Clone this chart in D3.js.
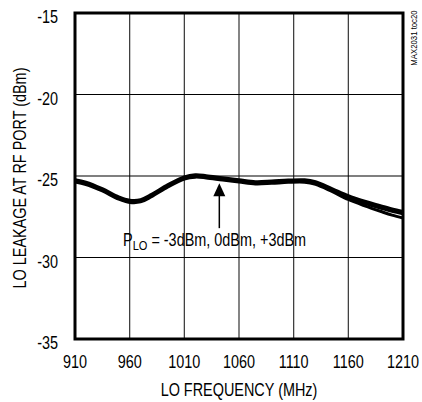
<!DOCTYPE html>
<html><head><meta charset="utf-8">
<script src="https://cdn.jsdelivr.net/npm/d3@7"></script>
<style>
html,body{margin:0;padding:0;background:#fff;}
svg{display:block;}
text{font-family:"Liberation Sans Narrow","Liberation Sans",Arial,sans-serif;fill:#000;}
</style></head>
<body>
<script>
const freqs = [910, 920, 935, 950, 960, 970, 980, 995, 1010, 1020, 1030, 1045, 1060, 1075, 1090, 1105, 1120, 1130, 1145, 1160, 1175, 1190, 1200, 1210];
const leakM3 = [-25.23, -25.38, -25.78, -26.28, -26.48, -26.45, -26.13, -25.53, -25.05, -24.93, -24.98, -25.11, -25.23, -25.35, -25.31, -25.25, -25.23, -25.35, -25.77, -26.21, -26.55, -26.84, -27.02, -27.17];
const leak0 = [-25.30, -25.45, -25.85, -26.35, -26.55, -26.52, -26.20, -25.60, -25.12, -25.00, -25.05, -25.18, -25.30, -25.42, -25.38, -25.32, -25.30, -25.43, -25.86, -26.31, -26.67, -26.98, -27.17, -27.31];
const leakP3 = [-25.37, -25.52, -25.92, -26.42, -26.62, -26.59, -26.27, -25.67, -25.19, -25.07, -25.12, -25.25, -25.37, -25.49, -25.45, -25.39, -25.38, -25.51, -25.95, -26.44, -26.83, -27.18, -27.40, -27.58];
const xTicks = [910, 960, 1010, 1060, 1110, 1160, 1210];
const yTicks = [-35, -30, -25, -20, -15];
const arrowFreq = 1042, arrowFrom = -28.2, arrowTo = -25.45;

const W = 422, H = 402;
const L = 75, R = 403, T = 13, B = 339;
const FS = 17.6, SX = 0.82;
const svg = d3.select("body").append("svg").attr("width", W).attr("height", H);
const x = d3.scaleLinear().domain([910, 1210]).range([L, R]);
const y = d3.scaleLinear().domain([-35, -15]).range([B, T]);

function txt(px, py, s, anchor, rot, fs) {
  return svg.append("text")
    .attr("transform", `translate(${px},${py})${rot ? " rotate(" + rot + ")" : ""} scale(${SX},1)`)
    .attr("text-anchor", anchor || "start").attr("font-size", fs || FS).text(s);
}

// grid
svg.append("g").selectAll("line").data(xTicks.slice(1, -1)).join("line")
  .attr("x1", d => x(d)).attr("x2", d => x(d)).attr("y1", T).attr("y2", B)
  .attr("stroke", "#333").attr("stroke-width", 1.2);
svg.append("g").selectAll("line").data(yTicks.slice(1, -1)).join("line")
  .attr("y1", d => y(d)).attr("y2", d => y(d)).attr("x1", L).attr("x2", R)
  .attr("stroke", "#000").attr("stroke-width", 1.2);

// curves
const line = d3.line().x((d, i) => x(freqs[i])).y(d => y(d)).curve(d3.curveCatmullRom.alpha(0.5));
[leakM3, leak0, leakP3].forEach(s => {
  svg.append("path").attr("d", line(s)).attr("fill", "none").attr("stroke", "#000").attr("stroke-width", 3);
});

// frame
svg.append("rect").attr("x", L).attr("y", T).attr("width", R - L).attr("height", B - T)
  .attr("fill", "none").attr("stroke", "#000").attr("stroke-width", 3);

// tick labels
xTicks.forEach(d => txt(x(d), 368, d, "middle"));
yTicks.forEach(d => txt(58, y(d) + 10, d, "end"));

// axis titles
txt((L + R) / 2, 396, "LO FREQUENCY (MHz)", "middle");
txt(26, (T + B) / 2 + 2, "LO LEAKAGE AT RF PORT (dBm)", "middle", -90);

// watermark
txt(417, 38, "MAX2031 toc20", "middle", -90, 9.5);

// arrow annotation
const ax = x(arrowFreq);
svg.append("line").attr("x1", ax).attr("x2", ax).attr("y1", y(arrowFrom)).attr("y2", y(arrowTo) + 10)
  .attr("stroke", "#000").attr("stroke-width", 1.5);
svg.append("path")
  .attr("d", `M${ax},${y(arrowTo)} L${ax - 6},${y(arrowTo) + 13} L${ax + 6},${y(arrowTo) + 13} Z`)
  .attr("fill", "#000");
const lab = txt(123, 246, "", "start");
lab.append("tspan").text("P");
lab.append("tspan").attr("font-size", 13.5).attr("dy", 4).text("LO");
lab.append("tspan").attr("dy", -4).text(" = -3dBm, 0dBm, +3dBm");
</script>
</body></html>
